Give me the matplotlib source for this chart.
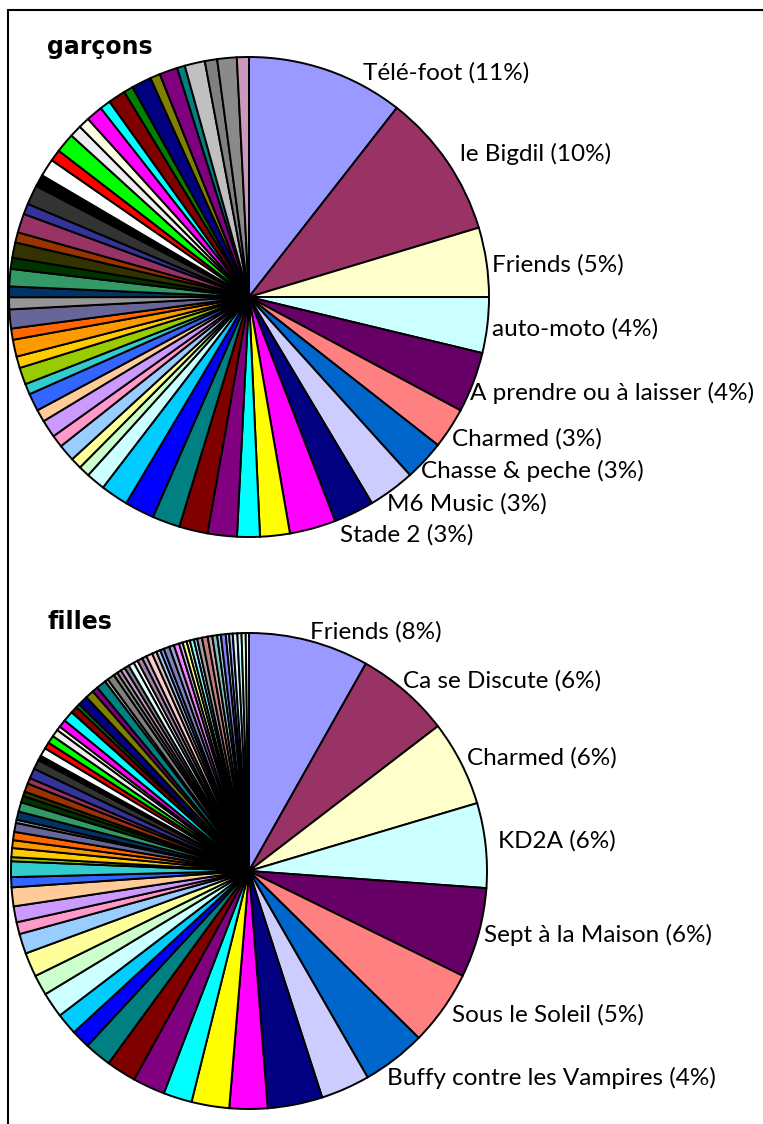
import numpy as np
import matplotlib.pyplot as plt
from matplotlib.patches import Rectangle

plt.rcParams['font.family'] = ['Lato', 'DejaVu Sans']

# ---------------- data (share of answers, %) ----------------
boys_names = ["Télé-foot", "le Bigdil", "Friends", "auto-moto",
              "A prendre ou à laisser", "Charmed", "Chasse & peche",
              "M6 Music", "Stade 2"]
boys_pct_shown = [11, 10, 5, 4, 4, 3, 3, 3, 3]
boys_share = [10.56, 9.78, 4.67, 3.75, 4.08, 2.75, 2.72, 3.14, 2.72,
              3.11, 2.00, 1.53, 1.97, 1.92, 1.86, 2.00, 1.86, 1.28, 0.75,
              0.75, 1.14, 0.83, 1.19, 0.83, 1.19, 0.72, 1.14, 0.78, 1.14,
              0.75, 1.28, 0.81, 0.72, 1.17, 0.75, 1.03, 0.69, 1.28, 0.72,
              1.31, 0.81, 1.19, 0.78, 1.31, 0.81, 0.75, 1.11, 0.72, 1.17,
              0.64, 1.33, 0.67, 1.22, 0.53, 1.36, 0.83, 1.31, 0.81]

girls_names = ["Friends", "Ca se Discute", "Charmed", "KD2A",
               "Sept à la Maison", "Sous le Soleil",
               "Buffy contre les Vampires"]
girls_pct_shown = [8, 6, 6, 6, 6, 5, 4]
girls_share = [8.17, 6.42, 5.81, 5.75, 6.11, 5.11, 4.33, 3.33, 3.72,
               2.58, 2.56, 1.94, 2.19, 2.03, 1.83, 1.28, 1.47, 1.72, 1.39,
               1.64, 1.36, 0.81, 1.08, 1.28, 0.69, 1.06, 0.28, 0.61, 0.53,
               0.56, 0.61, 0.22, 0.56, 0.64, 0.44, 0.31, 0.58, 0.39, 0.69,
               0.64, 0.33, 0.58, 0.44, 0.53, 0.50, 0.28, 0.53, 0.72, 0.47,
               0.25, 0.69, 0.58, 0.39, 0.67, 0.22, 0.50, 0.28, 0.28,
               0.31, 0.31, 0.39, 0.28, 0.36, 0.31, 0.42, 0.31, 0.28, 0.25,
               0.39, 0.33, 0.36, 0.25, 0.28, 0.22, 0.28, 0.22, 0.33, 0.39,
               0.31, 0.33, 0.25, 0.33, 0.22, 0.25, 0.31, 0.28, 0.28, 0.22]

# Excel chart fill order
excel_palette = ['#9999FF', '#993366', '#FFFFCC', '#CCFFFF', '#660066', '#FF8080',
                 '#0066CC', '#CCCCFF', '#000080', '#FF00FF', '#FFFF00', '#00FFFF',
                 '#800080', '#800000', '#008080', '#0000FF', '#00CCFF', '#CCFFFF',
                 '#CCFFCC', '#FFFF99', '#99CCFF', '#FF99CC', '#CC99FF', '#FFCC99',
                 '#3366FF', '#33CCCC', '#99CC00', '#FFCC00', '#FF9900', '#FF6600',
                 '#666699', '#969696', '#003366', '#339966', '#003300', '#333300',
                 '#993300', '#993366', '#333399', '#333333', '#000000', '#FFFFFF',
                 '#FF0000', '#00FF00', '#EEEEEE', '#FFFFE5', '#FF00FF', '#00FFFF',
                 '#800000', '#008000', '#000080', '#808000', '#800080', '#008080',
                 '#C0C0C0', '#808080']
boys_extra = ['#8A8A8A', '#CC99BB']
girls_extra = ['#8C8C8C', '#999999',
               '#CC99CC', '#808080', '#E0FFFF', '#FFFFFF', '#A080A0', '#C0A0C0',
               '#FFCCCC', '#E0C0C0', '#99CCFF', '#80A0E0', '#8080C0', '#A0A0D0',
               '#FF80FF', '#C0C0FF', '#FFFF80', '#FFFFC0', '#80FFFF', '#C0E0FF',
               '#A0A0A0', '#C08080', '#D0A0A0', '#80C0C0', '#A0D0D0', '#8080FF',
               '#C0E0FF', '#A0C0FF', '#E0F0FF', '#C0FFFF', '#E0FFE0', '#F0FFF0']

boys_colors = excel_palette + boys_extra
girls_colors = excel_palette + girls_extra

# label offsets from the rim (pixels)
boys_nudge = [(36, -3), (13, 7), (6, -3), (5, -4), (-3, -11), (2, -11),
              (-4, -10), (-5, -14), (-14, -22)]
girls_nudge = [(1, 9), (-2, 10), (6, 5), (12, 4), (5, -2), (9, -6), (-8, -19)]

W, H = 763, 1124
fig = plt.figure(figsize=(W / 100, H / 100), dpi=100)


def draw_pie(cx, cy, r, shares, colors, names, shown, nudges, title, title_y):
    ax = fig.add_axes([(cx - r) / W, (H - cy - r) / H, 2 * r / W, 2 * r / H])
    ax.pie(shares, colors=colors[:len(shares)], startangle=90, counterclock=False,
           wedgeprops=dict(edgecolor='black', linewidth=1.4, clip_on=False))
    ax.set_xlim(-1, 1)
    ax.set_ylim(-1, 1)
    ax.set_aspect('equal')
    ax.axis('off')

    total = float(sum(shares))
    cum = np.cumsum(shares)
    for i, (name, p) in enumerate(zip(names, shown)):
        mid = np.radians(360 * (cum[i] - shares[i] / 2) / total)
        dx, dy = nudges[i]
        ax.annotate(f"{name} ({p}%)", (np.sin(mid), np.cos(mid)),
                    xytext=(dx, dy), textcoords='offset pixels',
                    ha='left', va='center', fontsize=17.5, annotation_clip=False)

    fig.text(47 / W, 1 - title_y / H, title, fontsize=17, fontweight='bold',
             family=['DejaVu Sans'], ha='left', va='baseline')


draw_pie(249, 297, 240, boys_share, boys_colors, boys_names, boys_pct_shown,
         boys_nudge, "garçons", 54)
draw_pie(249, 871, 238, girls_share, girls_colors, girls_names, girls_pct_shown,
         girls_nudge, "filles", 629)

# chart frame (cut off on the right and bottom in the original)
fig.patches.append(Rectangle((8 / W, -0.1), 1.2, 1.1 - 10 / H, transform=fig.transFigure,
                             fill=False, edgecolor='black', linewidth=1.5))

fig.savefig('out.png', dpi=100)
